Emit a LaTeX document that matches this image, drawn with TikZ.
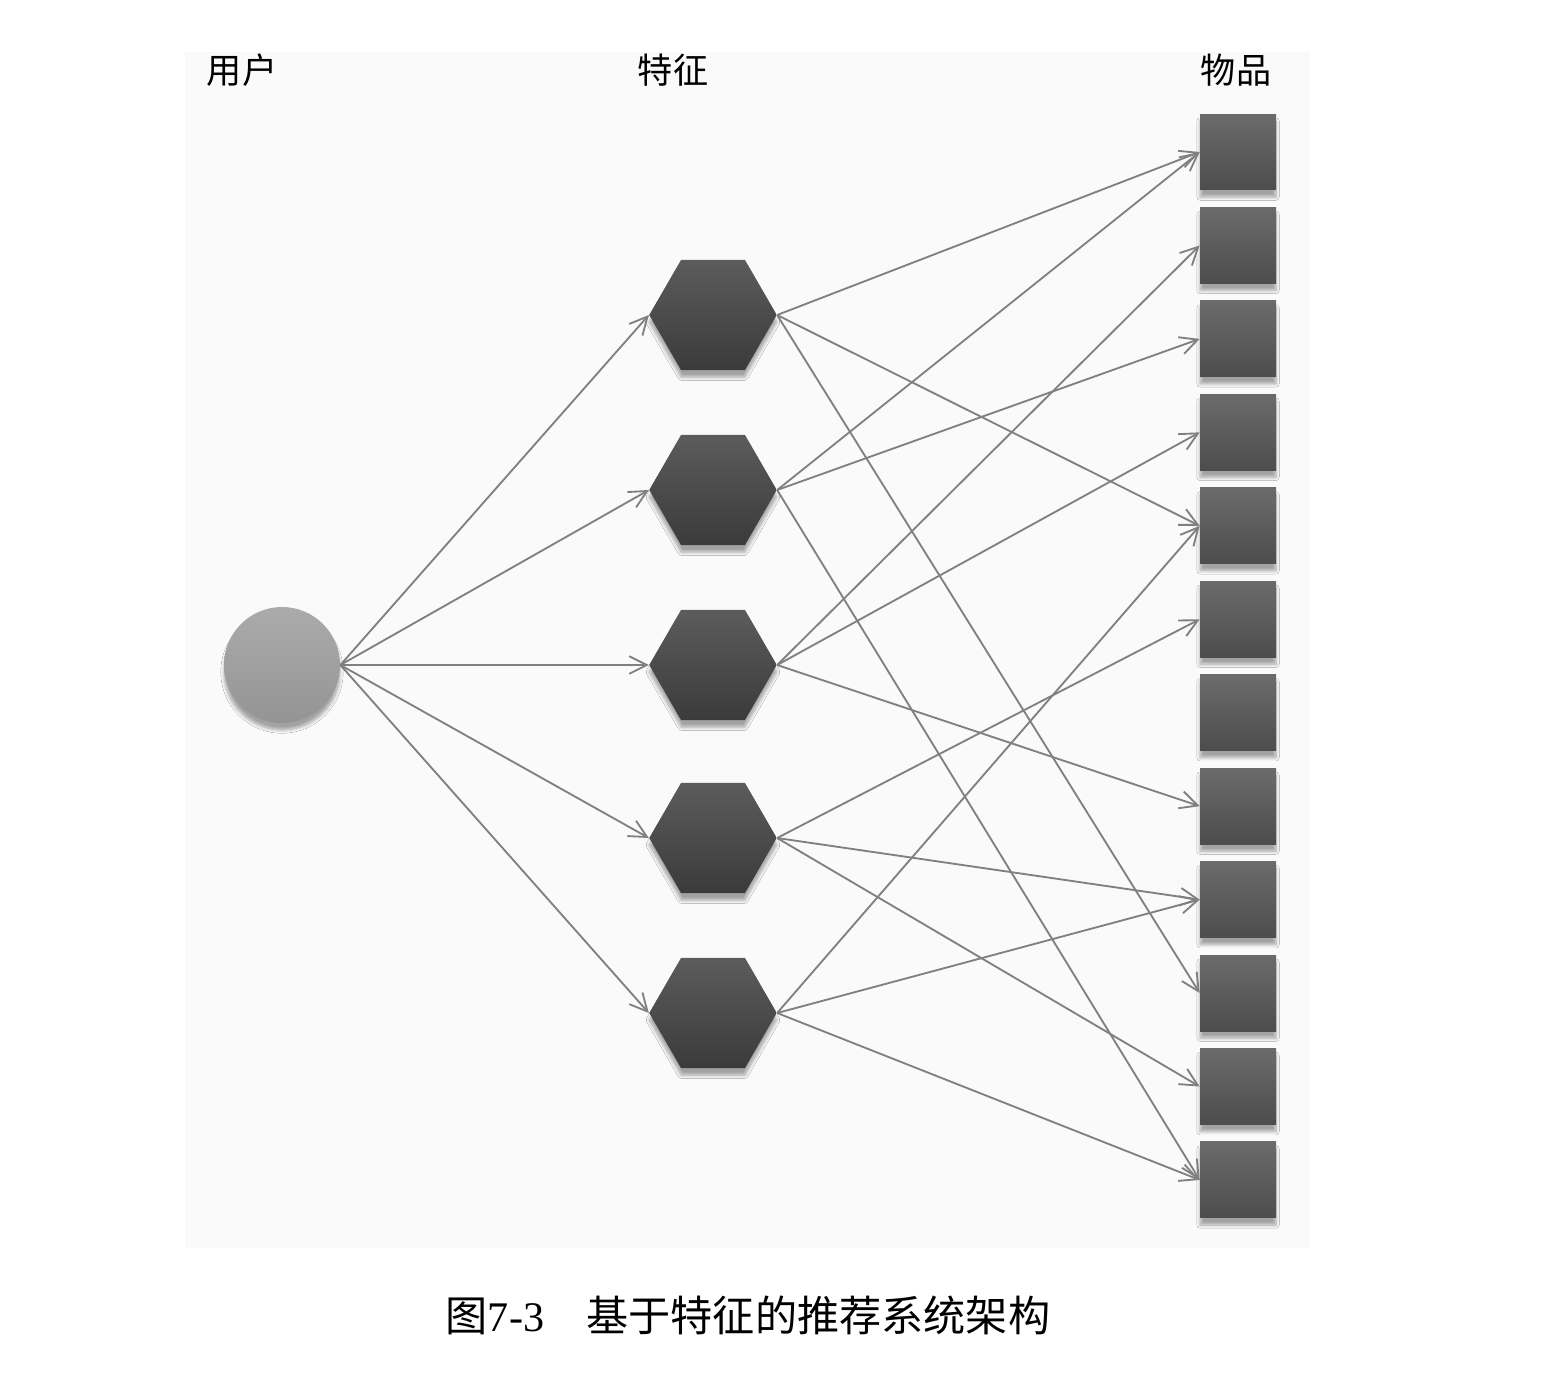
\documentclass[tikz,border=0pt]{standalone}
\usepackage{fontspec}
\usepackage{tikz}
\usetikzlibrary{shapes.geometric,shadows.blur,arrows.meta}
\setmainfont{Liberation Serif}
\newfontfamily\cjk{Noto Sans CJK SC}
\definecolor{linkgray}{HTML}{808080}
\definecolor{panelgray}{HTML}{FAFAFA}

\begin{document}
\begin{tikzpicture}
  [x=0.02cm, y=-0.02cm,
   link/.style={draw=linkgray, line width=1.05pt, -{Straight Barb[length=10pt,width=10pt]}},
   shade/.style={blur shadow={shadow xshift=0pt, shadow yshift=-4pt, shadow blur steps=6, shadow opacity=35}},
   user/.style={circle, minimum size=2.32cm, inner sep=0pt, top color=black!33, bottom color=black!42, shade},
   feature/.style={regular polygon, regular polygon sides=6, minimum size=2.55cm, inner sep=0pt,
     top color=black!64, bottom color=black!77, shade},
   item/.style={rectangle, minimum size=1.52cm, inner sep=0pt, top color=black!58, bottom color=black!70, shade},
   head/.style={font=\cjk\fontsize{20pt}{24pt}\selectfont}]
  \useasboundingbox (0,0) rectangle (1548,1386);
  \fill[panelgray] (185,52) rectangle (1310,1248);

  % column titles
  \node[head] (tu) at (242,70) {用户};
  \node[head] (tf) at (673,70) {特征};
  \node[head] (ti) at (1236,70) {物品};

  % nodes
  \node[user] (u) at (282,665) {};
  \foreach \i/\y in {1/315,2/490,3/665,4/838,5/1013}
    \node[feature] (h\i) at (713,\y) {};
  \foreach \i in {1,...,12}
    \node[item] (s\i) at (1238,{152+93.45*(\i-1)}) {};

  % links
  \foreach \i in {1,...,5}
    \draw[link] (u.east) -- (h\i.west);
  \foreach \a/\b in {1/1,1/5,1/10,2/1,2/3,2/12,3/2,3/4,3/8,4/6,4/9,4/11,5/5,5/9,5/12}
    \draw[link] (h\a.east) -- (s\b.west);

  % caption
  \node[font=\fontsize{24pt}{28pt}\selectfont] (cap) at (748,1315)
    {{\cjk 图}7-3\quad{\cjk 基于特征的推荐系统架构}};
\end{tikzpicture}
\end{document}
